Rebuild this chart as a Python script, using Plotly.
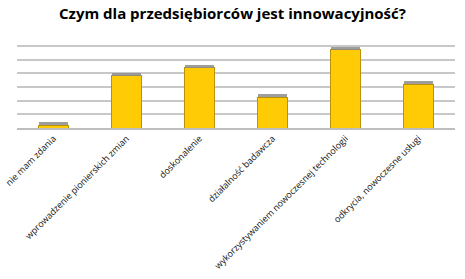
import plotly.graph_objects as go

categories = [
    "nie mam zdania",
    "wprowadzenie pionierskich zmian",
    "doskonalenie",
    "działalność badawcza",
    "wykorzystywaniem nowoczesnej technologii",
    "odkrycia, nowoczesne usługi",
]
values = [0.2, 3.82, 4.41, 2.24, 5.72, 3.19]
title = "Czym dla przedsiębiorców jest innowacyjność?"

CAP = 0.22

fig = go.Figure()
fig.add_trace(go.Bar(
    x=categories, y=values,
    marker=dict(color="#FFCB05", line=dict(color="#B8920A", width=1)),
    hoverinfo="y",
))
fig.add_trace(go.Bar(
    x=categories, y=[CAP] * len(categories),
    marker=dict(color="#8c8c8c", line=dict(width=0)),
    opacity=0.85,
    hoverinfo="skip",
))

fig.update_layout(
    barmode="stack",
    bargap=0.6,
    width=465, height=279,
    margin=dict(l=17, r=10, t=32, b=151),
    paper_bgcolor="white", plot_bgcolor="white",
    showlegend=False,
    title=dict(text="<b>" + title + "</b>", x=0.5, xanchor="center",
               y=0.95, yanchor="middle",
               font=dict(family="Open Sans", size=15, color="#000000")),
    font=dict(family="Open Sans", color="#111111"),
)
fig.update_xaxes(
    tickangle=-45, tickfont=dict(size=9, color="#111111"),
    showline=True, linecolor="#bdbdbd", linewidth=1.5,
    ticks="", showgrid=False, automargin=False,
)
fig.update_yaxes(
    range=[0, 7.01], dtick=1, showticklabels=False,
    showgrid=True, gridcolor="#c8c8c8", gridwidth=1.5,
    zeroline=False, showline=False, automargin=False,
)

fig.write_html("out.html")
